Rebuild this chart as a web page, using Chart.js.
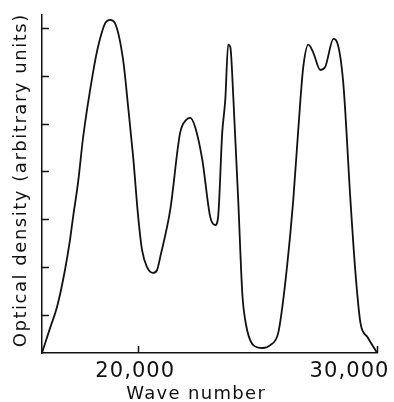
<!DOCTYPE html>
<html>
<head>
<meta charset="utf-8">
<script src="https://cdn.jsdelivr.net/npm/chart.js@4.4.1/dist/chart.umd.min.js"></script>
<style>
  html, body { margin: 0; padding: 0; background: #fff; }
  #c { display: block; }
</style>
</head>
<body>
<canvas id="c" width="394" height="402"></canvas>
<script>
// absorption spectrum
const waveNumbers = [16000, 16340, 16630, 16960, 17170, 17300, 17510, 17720, 18130, 18340,
  18640, 18850, 19050, 19390, 19600, 19810, 20020, 20180, 20390,
  20640, 20810, 20940, 21360, 21770, 22030, 22190, 22400, 22700, 23030,
  23240, 23360, 23530, 23660, 23780, 23870, 24000, 24200, 24370,
  24490, 24830, 25210, 25540, 25870, 26080, 26380, 26500, 26800, 26920,
  27130, 27340, 27630, 27840, 28180, 28340, 28590, 28890, 29100, 29310,
  29600, 30000];
const density = [0.21, 0.73, 1.17, 1.94, 2.57, 3.05, 3.78, 4.72, 6.06, 6.60,
  7.10, 7.17, 7.10, 6.33, 5.35, 4.30, 3.05, 2.36, 2.00,
  1.88, 1.94, 2.21, 3.20, 4.80, 5.08, 5.12, 4.93, 4.24, 3.05,
  2.88, 3.05, 4.80, 5.50, 6.65, 6.60, 5.50, 3.40, 1.46,
  0.90, 0.37, 0.31, 0.37, 0.62, 1.31, 2.71, 3.40, 5.50, 6.19,
  6.65, 6.48, 6.12, 6.19, 6.77, 6.69, 5.85, 3.40, 1.88, 0.83,
  0.54, 0.21];

const xTickValues = [20000, 30000];
const xTickLabels = ['20,000', '30,000'];
const yTickValues = [1, 2, 3, 4, 5, 6, 7];
const xTitle = 'Wave number';
const yTitle = 'Optical density (arbitrary units)';

const ink = '#111';
const fontFamily = '"DejaVu Sans", sans-serif';

// stretch text to a given width with letter spacing, like the hand lettering
function spacedText(ctx, text, x, y, targetWidth) {
  ctx.letterSpacing = '0px';
  const w = ctx.measureText(text).width;
  const sp = Math.max(0, (targetWidth - w) / text.length);
  ctx.letterSpacing = sp + 'px';
  ctx.fillText(text, x + sp / 2, y);
  ctx.letterSpacing = '0px';
}

const axisDecor = {
  id: 'axisDecor',
  afterDraw(chart) {
    const { ctx, chartArea, scales: { x, y } } = chart;
    ctx.save();
    ctx.strokeStyle = ink;
    ctx.lineWidth = 1.5;

    // tick marks point into the plot
    ctx.beginPath();
    yTickValues.forEach(v => {
      const py = Math.round(y.getPixelForValue(v)) + 0.5;
      ctx.moveTo(chartArea.left, py);
      ctx.lineTo(chartArea.left + 7, py);
    });
    xTickValues.forEach(v => {
      const px = Math.round(x.getPixelForValue(v)) + 0.5;
      ctx.moveTo(px, chartArea.bottom);
      ctx.lineTo(px, chartArea.bottom - 7);
    });
    ctx.stroke();

    ctx.fillStyle = ink;
    ctx.strokeStyle = ink;
    ctx.lineWidth = 0.4;
    ctx.textAlign = 'center';
    ctx.textBaseline = 'alphabetic';

    // tick labels
    ctx.font = '21px ' + fontFamily;
    xTickValues.forEach((v, i) => {
      const w = 80;
      let cx = x.getPixelForValue(v) - 3;
      cx = Math.min(cx, chart.width - w / 2 - 5);
      spacedText(ctx, xTickLabels[i], cx, chartArea.bottom + 24, w);
    });

    // axis titles
    ctx.font = '18px ' + fontFamily;
    spacedText(ctx, xTitle, (chartArea.left + chartArea.right) / 2 - 14, chartArea.bottom + 46, 140);

    ctx.save();
    ctx.translate(26, (chartArea.top + chartArea.bottom) / 2 - 3);
    ctx.rotate(-Math.PI / 2);
    spacedText(ctx, yTitle, 0, 0, 334);
    ctx.restore();

    ctx.restore();
  }
};

new Chart(document.getElementById('c'), {
  type: 'line',
  data: {
    datasets: [{
      data: waveNumbers.map((w, i) => ({ x: w, y: density[i] })),
      borderColor: ink,
      borderWidth: 1.8,
      pointRadius: 0,
      fill: false,
      tension: 0.4,
      cubicInterpolationMode: 'monotone'
    }]
  },
  options: {
    responsive: false,
    devicePixelRatio: 1,
    animation: false,
    layout: { padding: { left: 42, right: 17, top: 15, bottom: 49 } },
    plugins: { legend: { display: false }, tooltip: { enabled: false } },
    scales: {
      x: {
        type: 'linear',
        min: 16000,
        max: 30000,
        ticks: { display: false },
        grid: { display: false, drawTicks: false },
        border: { display: true, color: ink, width: 1.5 }
      },
      y: {
        min: 0.205,
        max: 7.27,
        ticks: { display: false },
        grid: { display: false, drawTicks: false },
        border: { display: true, color: ink, width: 1.5 }
      }
    }
  },
  plugins: [axisDecor]
});
</script>
</body>
</html>
